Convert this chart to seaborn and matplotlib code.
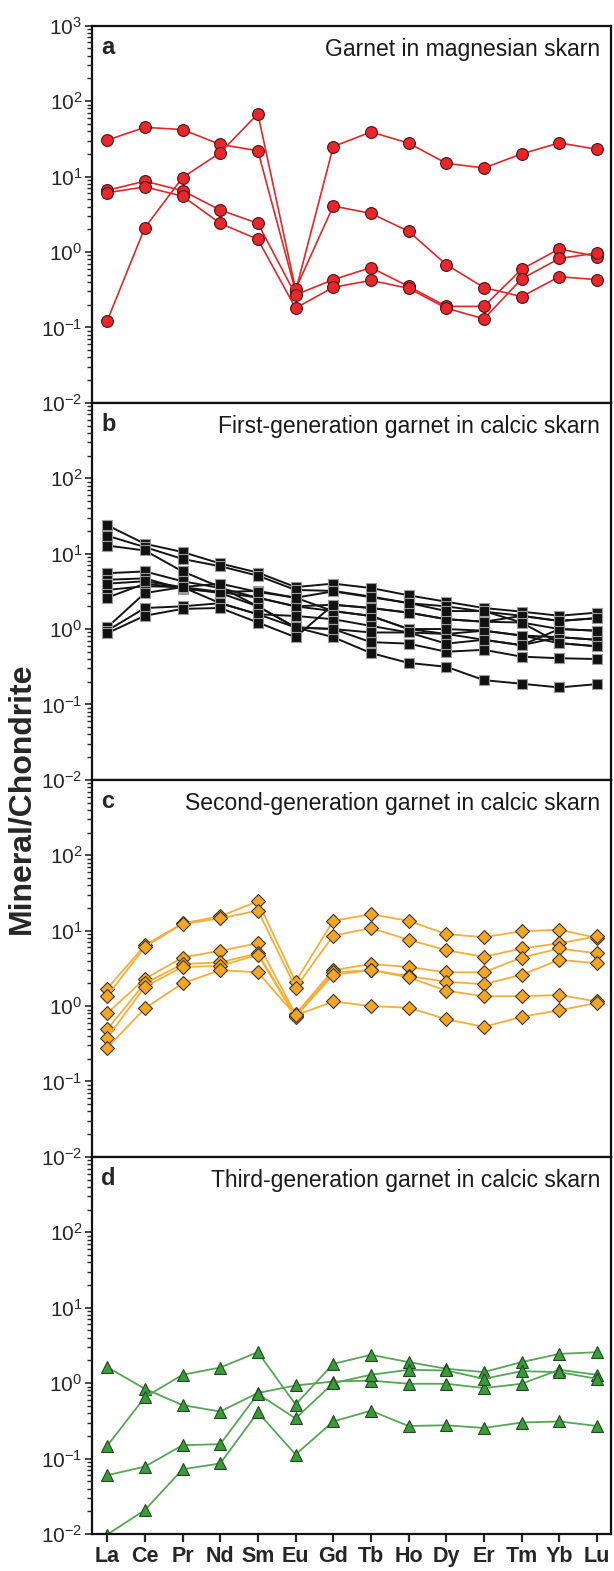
import numpy as np
import pandas as pd
import seaborn as sns
import matplotlib.pyplot as plt
from matplotlib.ticker import FixedLocator, LogLocator, NullFormatter

# REE normalised to chondrite
elements = ['La', 'Ce', 'Pr', 'Nd', 'Sm', 'Eu', 'Gd', 'Tb', 'Ho', 'Dy', 'Er', 'Tm', 'Yb', 'Lu']

# (a) garnet in magnesian skarn
mag_skarn = [
    [30.4, 45, 42, 26.7, 22, 0.30, 25, 39, 27.8, 15, 13, 20, 28, 23],
    [0.122, 2.1, 9.7, 20.7, 68, 0.32, 4.07, 3.25, 1.88, 0.68, 0.337, 0.256, 0.47, 0.43],
    [6.56, 8.7, 6.5, 3.6, 2.4, 0.27, 0.43, 0.62, 0.35, 0.19, 0.19, 0.59, 1.1, 0.87],
    [6.1, 7.3, 5.5, 2.4, 1.47, 0.18, 0.34, 0.42, 0.33, 0.18, 0.13, 0.44, 0.82, 0.97],
]

# (b) first-generation garnet in calcic skarn
gen1_calcic = [
    [23.8, 13.5, 10.5, 7.4, 5.6, 3.6, 4.0, 3.5, 2.8, 2.3, 1.9, 1.7, 1.5, 1.65],
    [17.3, 12.2, 8.5, 6.8, 5.1, 3.3, 3.2, 2.7, 2.2, 2.0, 1.7, 1.5, 1.28, 1.4],
    [12.8, 11.0, 5.8, 3.6, 2.0, 1.05, 0.78, 0.48, 0.355, 0.316, 0.21, 0.188, 0.168, 0.186],
    [5.5, 5.8, 4.3, 3.5, 2.6, 2.0, 2.1, 1.9, 1.65, 1.35, 1.25, 1.22, 1.0, 0.95],
    [4.5, 4.7, 3.4, 3.1, 3.2, 2.6, 1.73, 1.49, 1.0, 0.86, 0.95, 0.82, 0.78, 0.72],
    [3.3, 3.7, 3.6, 2.2, 1.57, 1.49, 1.35, 1.1, 0.9, 0.86, 0.72, 0.61, 0.78, 0.72],
    [2.6, 4.0, 3.5, 3.0, 2.0, 1.05, 1.0, 0.67, 0.64, 0.5, 0.53, 0.43, 0.41, 0.40],
    [1.05, 3.0, 3.6, 3.1, 2.6, 2.0, 1.73, 1.49, 1.0, 1.0, 0.95, 0.82, 0.65, 0.59],
    [0.95, 1.9, 2.0, 2.2, 1.57, 1.05, 1.0, 0.9, 0.9, 0.64, 0.72, 0.61, 1.0, 0.95],
    [0.88, 1.5, 1.85, 1.9, 1.22, 0.78, 2.1, 1.9, 1.65, 1.35, 1.25, 1.49, 1.28, 1.39],
    [4.0, 4.3, 3.6, 4.0, 3.1, 2.6, 3.16, 2.64, 2.22, 1.73, 1.73, 1.22, 0.65, 0.59],
]

# (c) second-generation garnet in calcic skarn
gen2_calcic = [
    [1.7, 6.4, 12.5, 15.5, 24.5, 2.1, 13.5, 16.5, 13.5, 9.0, 8.2, 9.8, 10.3, 8.0],
    [1.35, 6.1, 12.3, 14.5, 18.5, 1.75, 8.6, 10.8, 7.6, 5.5, 4.5, 5.8, 6.8, 8.4],
    [0.8, 2.3, 4.4, 5.4, 6.8, 0.78, 3.0, 3.6, 3.3, 2.8, 2.8, 4.4, 5.8, 5.0],
    [0.49, 2.0, 3.6, 3.8, 5.0, 0.74, 2.8, 3.0, 2.5, 2.1, 1.95, 2.6, 4.1, 3.7],
    [0.38, 1.8, 3.3, 3.4, 4.8, 0.72, 2.6, 3.0, 2.4, 1.6, 1.35, 1.35, 1.4, 1.15],
    [0.28, 0.93, 2.0, 3.0, 2.8, 0.75, 1.15, 1.0, 0.95, 0.67, 0.53, 0.72, 0.88, 1.1],
]

# (d) third-generation garnet in calcic skarn
gen3_calcic = [
    [1.63, 0.84, 0.51, 0.42, 0.74, 0.93, 1.05, 1.08, 0.98, 0.98, 0.86, 0.98, 1.5, 1.29],
    [0.147, 0.65, 1.29, 1.61, 2.57, 0.52, 1.8, 2.37, 1.9, 1.55, 1.4, 1.9, 2.44, 2.57],
    [0.06, 0.078, 0.15, 0.155, 0.72, 0.34, 1.0, 1.29, 1.5, 1.47, 1.14, 1.44, 1.4, 1.14],
    [0.0098, 0.0207, 0.072, 0.086, 0.41, 0.113, 0.31, 0.43, 0.27, 0.276, 0.254, 0.30, 0.31, 0.27],
]

panel_letters = ['a', 'b', 'c', 'd']
panel_titles = ['Garnet in magnesian skarn',
                'First-generation garnet in calcic skarn',
                'Second-generation garnet in calcic skarn',
                'Third-generation garnet in calcic skarn']


def to_long(rows):
    recs = []
    for i, row in enumerate(rows):
        for j, v in enumerate(row):
            recs.append({'sample': i, 'pos': j, 'value': v})
    return pd.DataFrame(recs)


sns.set_style('ticks')
plt.rcParams['font.family'] = ['Liberation Sans', 'DejaVu Sans']
plt.rcParams['mathtext.fontset'] = 'custom'
plt.rcParams['mathtext.rm'] = 'Liberation Sans'
plt.rcParams['mathtext.it'] = 'Liberation Sans'

# line colour, marker, marker size, fill, edge
styles = [
    dict(color='#e2262b', marker='o', markersize=8.5, markerfacecolor='#e8262b', markeredgecolor='#4a1212', lw=1.2),
    dict(color='#141414', marker='s', markersize=7.5, markerfacecolor='#111111', markeredgecolor='#9a9a9a', lw=1.4),
    dict(color='#f5ae3a', marker='D', markersize=7.5, markerfacecolor='#f3a623', markeredgecolor='#3f3426', lw=1.3),
    dict(color='#55a655', marker='^', markersize=9, markerfacecolor='#3c9a3c', markeredgecolor='#1f4a1f', lw=1.3),
]
datasets = [mag_skarn, gen1_calcic, gen2_calcic, gen3_calcic]

fig = plt.figure(figsize=(6.14, 15.71), dpi=100)
left, width, height = 0.150, 0.845, 0.2400
bottoms = [0.7436, 0.5036, 0.2636, 0.0236]

for k in range(4):
    ax = fig.add_axes([left, bottoms[k], width, height])
    ax.set_yscale('log')
    df = to_long(datasets[k])
    st = styles[k]
    sns.lineplot(data=df, x='pos', y='value', units='sample', estimator=None,
                 color=st['color'], lw=st['lw'], marker=st['marker'],
                 markersize=st['markersize'], markerfacecolor=st['markerfacecolor'],
                 markeredgecolor=st['markeredgecolor'], markeredgewidth=0.8,
                 legend=False, ax=ax)

    ax.set_ylim(1e-2, 1e3)
    ax.set_xlim(-0.4, 13.37)

    # y ticks: 10^-2 .. 10^2 on every panel, 10^3 only on the top one
    exps = [-2, -1, 0, 1, 2] + ([3] if k == 0 else [])
    ax.yaxis.set_major_locator(FixedLocator([10.0 ** e for e in exps]))
    ax.set_yticklabels(['10$^{%s}$' % ('\u2212' + str(-e) if e < 0 else str(e)) for e in exps],
                       fontsize=15)
    ax.yaxis.set_minor_locator(LogLocator(base=10, subs=np.arange(2, 10), numticks=20))
    ax.yaxis.set_minor_formatter(NullFormatter())
    ax.tick_params(axis='y', which='major', direction='out', length=5, width=1.2, pad=2)
    ax.tick_params(axis='y', which='minor', direction='out', length=3.5, width=1.0)

    ax.set_xticks(range(len(elements)))
    if k == 3:
        ax.set_xticklabels(elements, fontsize=15.5, fontweight='bold')
    else:
        ax.set_xticklabels([])
    ax.tick_params(axis='x', direction='out', length=6, width=1.6, pad=3)

    ax.set_xlabel('')
    ax.set_ylabel('')
    for sp in ax.spines.values():
        sp.set_visible(True)
        sp.set_linewidth(1.6)
        sp.set_color('#111111')

    ax.text(0.018, 0.925, panel_letters[k], transform=ax.transAxes,
            fontsize=17, fontweight='bold', ha='left', va='baseline')
    ax.text(0.979, 0.92, panel_titles[k], transform=ax.transAxes,
            fontsize=16.5, ha='right', va='baseline', color='#1a1a1a')

fig.text(0.034, 0.492, 'Mineral/Chondrite', rotation=90, fontsize=23,
         fontweight='bold', ha='center', va='center')

plt.savefig('out.png', dpi=100)
